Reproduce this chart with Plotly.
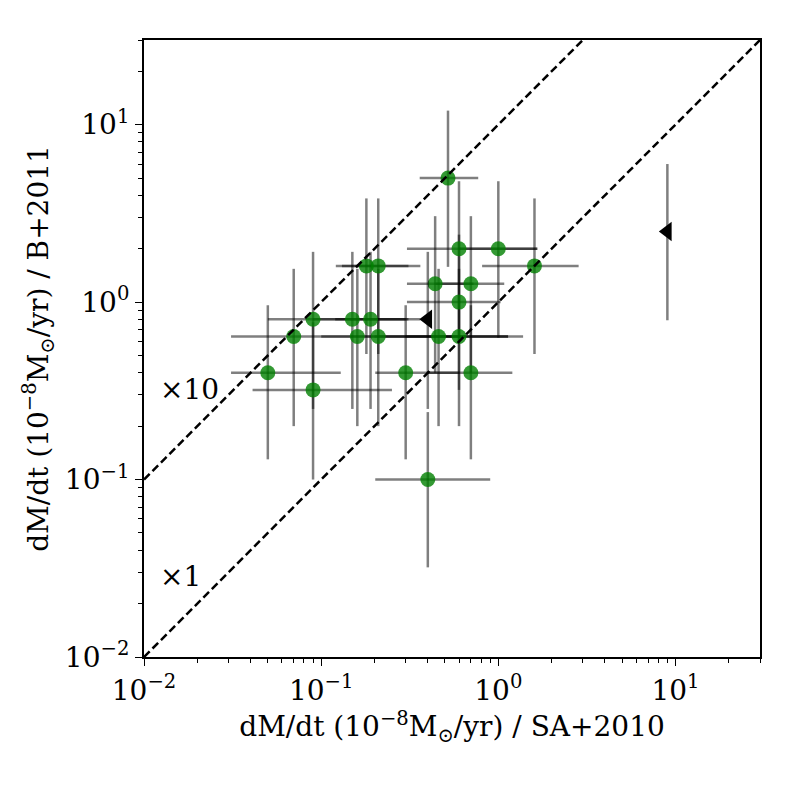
import math
import plotly.graph_objects as go

# ---- data ----
sa_rate = [0.52, 0.6, 1.0, 0.18, 0.21, 1.6, 0.44, 0.7, 0.6, 0.09, 0.15, 0.19,
           0.07, 0.16, 0.21, 0.46, 0.6, 0.05, 0.3, 0.7, 0.09, 0.4]
b_rate = [5.0, 2.0, 2.0, 1.6, 1.6, 1.6, 1.27, 1.27, 1.0, 0.8, 0.8, 0.8,
          0.64, 0.64, 0.64, 0.64, 0.64, 0.4, 0.4, 0.4, 0.32, 0.1]
sa_err_minus = [0.16, 0.295, 0.4, 0.059, 0.079, 0.79, 0.135, 0.257, 0.295, 0.04, 0.06, 0.07,
                0.039, 0.06, 0.11, 0.26, 0.3, 0.019, 0.098, 0.304, 0.049, 0.198]
sa_err_plus = [0.25, 1.06, 0.66, 0.131, 0.153, 1.24, 0.285, 0.38, 0.43, 0.221, 0.213, 0.11,
               0.03, 0.975, 0.39, 0.675, 0.78, 0.079, 0.304, 0.5, 0.161, 0.5]
b_err_minus = [3.42, 1.37, 1.37, 1.09, 1.09, 1.09, 0.87, 0.87, 0.68, 0.55, 0.55, 0.55,
               0.44, 0.44, 0.44, 0.44, 0.44, 0.27, 0.27, 0.27, 0.22, 0.068]
b_err_plus = [7.0, 2.8, 2.8, 2.24, 2.24, 2.24, 1.78, 1.78, 1.4, 1.12, 1.12, 1.12,
              0.9, 0.9, 0.9, 0.9, 0.9, 0.56, 0.56, 0.56, 0.45, 0.14]

# upper limits in SA+2010
lim_sa = [0.4, 9.0]
lim_b = [0.8, 2.5]
lim_b_err_minus = [0.55, 1.71]
lim_b_err_plus = [1.12, 3.5]

axis_limits = [0.01, 30]
ratio_factors = [10, 1]
ratio_labels = ["×10", "×1"]
major_ticks = [0.01, 0.1, 1, 10]
major_text = ["10<sup>−2</sup>", "10<sup>−1</sup>", "10<sup>0</sup>", "10<sup>1</sup>"]

FONT = "DejaVu Serif"
FS = 28
ERR = "rgba(0,0,0,0.5)"

minor_ticks = [k * d for d in [0.01, 0.1, 1, 10] for k in range(2, 10) if k * d <= axis_limits[1]]

fig = go.Figure()

fig.add_trace(go.Scatter(
    x=sa_rate, y=b_rate, mode="markers",
    marker=dict(color="rgba(0,128,0,0.8)", size=15, line=dict(width=0)),
    error_x=dict(type="data", symmetric=False, array=sa_err_plus, arrayminus=sa_err_minus,
                 color=ERR, thickness=2.5, width=0),
    error_y=dict(type="data", symmetric=False, array=b_err_plus, arrayminus=b_err_minus,
                 color=ERR, thickness=2.5, width=0),
    showlegend=False,
))

fig.add_trace(go.Scatter(
    x=lim_sa, y=lim_b, mode="markers",
    marker=dict(color="black", size=17, symbol="triangle-left", line=dict(width=0)),
    error_y=dict(type="data", symmetric=False, array=lim_b_err_plus, arrayminus=lim_b_err_minus,
                 color=ERR, thickness=2.5, width=0),
    showlegend=False,
))

for f in ratio_factors:
    xs = [axis_limits[0], axis_limits[1] / f]
    fig.add_trace(go.Scatter(
        x=xs, y=[f * v for v in xs], mode="lines",
        line=dict(color="black", width=2.5, dash="8px,4px"),
        showlegend=False, hoverinfo="skip",
    ))

ann_y = {10: -0.49, 1: -1.545}
for f, lab in zip(ratio_factors, ratio_labels):
    fig.add_annotation(x=-1.92, y=ann_y[f], xref="x", yref="y", text=lab,
                       showarrow=False, xanchor="left", yanchor="middle",
                       font=dict(family=FONT, size=FS, color="black"))

axis_common = dict(
    type="log",
    range=[math.log10(axis_limits[0]), math.log10(axis_limits[1])],
    showgrid=False, zeroline=False,
    showline=True, linecolor="black", linewidth=2, mirror=True,
    ticks="outside", ticklen=7, tickwidth=1.2, tickcolor="black",
    tickvals=major_ticks, ticktext=major_text,
    tickfont=dict(family=FONT, size=FS, color="black"),
    minor=dict(tickvals=minor_ticks, ticks="outside", ticklen=4, tickwidth=1, tickcolor="black",
               showgrid=False),
)

fig.update_layout(
    width=800, height=800,
    margin=dict(l=136, r=48, t=32, b=151),
    paper_bgcolor="white", plot_bgcolor="white",
    xaxis=dict(axis_common,
               title=dict(text="dM/dt (10<sup>−8</sup>M<sub>⊙</sub>/yr) / SA+2010",
                          font=dict(family=FONT, size=FS, color="black"), standoff=6)),
    yaxis=dict(axis_common,
               title=dict(text="dM/dt (10<sup>−8</sup>M<sub>⊙</sub>/yr) / B+2011",
                          font=dict(family=FONT, size=FS, color="black"), standoff=8)),
)

fig.write_html("out.html")
